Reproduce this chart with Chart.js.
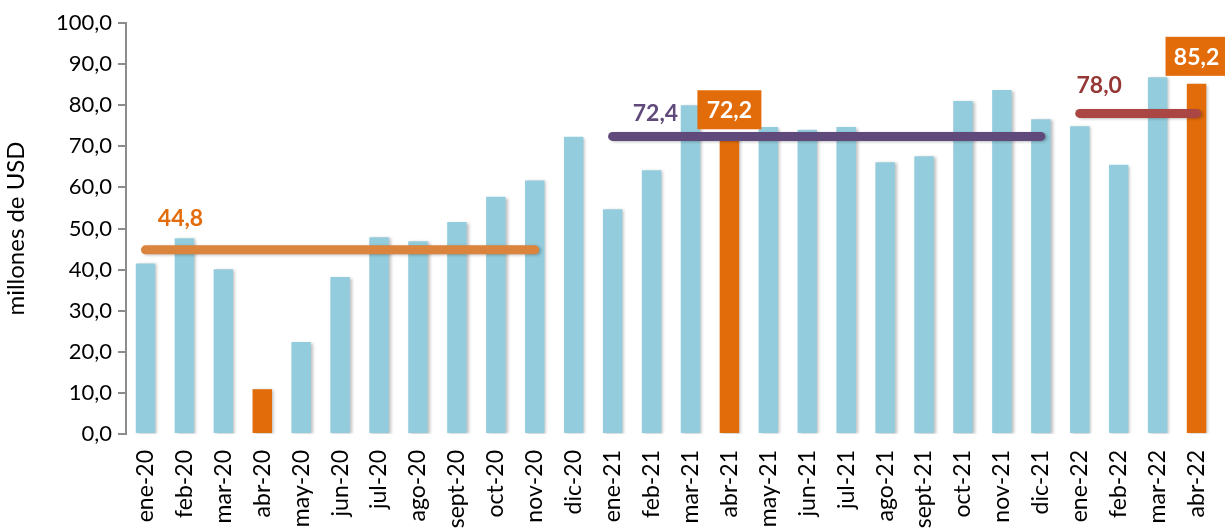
<!DOCTYPE html>
<html>
<head>
<meta charset="utf-8">
<script src="https://cdn.jsdelivr.net/npm/chart.js@4/dist/chart.umd.min.js"></script>
<style>
  html, body { margin: 0; padding: 0; background: #fff; }
  #wrap { width: 1225px; height: 530px; position: relative; }
</style>
</head>
<body>
<div id="wrap"><canvas id="chart"></canvas></div>
<script>
// meses
const months = ['ene-20','feb-20','mar-20','abr-20','may-20','jun-20','jul-20','ago-20','sept-20','oct-20','nov-20','dic-20',
                'ene-21','feb-21','mar-21','abr-21','may-21','jun-21','jul-21','ago-21','sept-21','oct-21','nov-21','dic-21',
                'ene-22','feb-22','mar-22','abr-22'];
// valores mensuales (millones de USD)
const values = [41.5, 47.6, 40.1, 10.9, 22.4, 38.2, 47.9, 46.9, 51.6, 57.7, 61.7, 72.3,
                54.7, 64.2, 80.0, 72.2, 74.7, 74.0, 74.7, 66.1, 67.6, 81.0, 83.7, 76.6,
                74.9, 65.5, 86.8, 85.2];
// meses destacados (abril)
const highlighted = ['abr-20', 'abr-21', 'abr-22'];
// promedios por periodo
const avg2020 = [44.8, 44.8, 44.8, 44.8, 44.8, 44.8, 44.8, 44.8, 44.8, 44.8, 44.8, null,
                 null, null, null, null, null, null, null, null, null, null, null, null,
                 null, null, null, null];
const avg2021 = [null, null, null, null, null, null, null, null, null, null, null, null,
                 72.4, 72.4, 72.4, 72.4, 72.4, 72.4, 72.4, 72.4, 72.4, 72.4, 72.4, 72.4,
                 null, null, null, null];
const avg2022 = [null, null, null, null, null, null, null, null, null, null, null, null,
                 null, null, null, null, null, null, null, null, null, null, null, null,
                 78.0, 78.0, 78.0, 78.0];
const yTicks = [0, 10, 20, 30, 40, 50, 60, 70, 80, 90, 100];

const BLUE = '#93CDDD';
const ORANGE = '#E36C0A';
const FONT = 'Lato, "Open Sans", sans-serif';

const fmt = v => v.toFixed(1).replace('.', ',');

// etiquetas de texto sobre las lineas y barras
const labelPlugin = {
    id: 'labels',
    beforeDatasetDraw(chart, args) {
        const ctx = chart.ctx;
        ctx.save();
        ctx.shadowColor = 'rgba(0,0,0,0.25)';
        ctx.shadowBlur = 3;
        ctx.shadowOffsetX = 2;
        ctx.shadowOffsetY = 1;
    },
    afterDatasetDraw(chart) {
        chart.ctx.restore();
    },
    afterDatasetsDraw(chart) {
        const ctx = chart.ctx;
        const x = chart.scales.x;
        const y = chart.scales.y;
        ctx.save();
        ctx.font = 'bold 23px ' + FONT;
        ctx.textAlign = 'center';
        ctx.textBaseline = 'middle';

        // promedios
        const avgLabels = [
            { idx: 0.9, val: avg2020[0], dy: -31, color: '#E36C0A' },
            { idx: 13.1, val: avg2021[12], dy: -23, color: '#604A7B' },
            { idx: 24.5, val: avg2022[24], dy: -28, color: '#953735' }
        ];
        avgLabels.forEach(l => {
            const px = x.getPixelForValue(0) + (x.getPixelForValue(1) - x.getPixelForValue(0)) * l.idx;
            ctx.fillStyle = l.color;
            ctx.fillText(fmt(l.val), px, y.getPixelForValue(l.val) + l.dy);
        });

        // cajas de abril 2021 y 2022
        [['abr-21', 64], ['abr-22', 62]].forEach(([m, w]) => {
            const i = months.indexOf(m);
            const cx = x.getPixelForValue(i);
            const top = y.getPixelForValue(values[i]);
            const bh = 39;
            const by = top - 8 - bh;
            ctx.fillStyle = ORANGE;
            ctx.fillRect(cx - w / 2, by, w, bh);
            ctx.fillStyle = '#fff';
            ctx.fillText(fmt(values[i]), cx, by + bh / 2 + 1);
        });
        ctx.restore();
    }
};

new Chart(document.getElementById('chart'), {
    type: 'bar',
    data: {
        labels: months,
        datasets: [
            {
                type: 'line',
                data: avg2020,
                borderColor: '#DB843D',
                borderWidth: 9,
                borderCapStyle: 'round',
                pointRadius: 0,
                order: 0
            },
            {
                type: 'line',
                data: avg2021,
                borderColor: '#604A7B',
                borderWidth: 9,
                borderCapStyle: 'round',
                pointRadius: 0,
                order: 0
            },
            {
                type: 'line',
                data: avg2022,
                borderColor: '#AA4643',
                borderWidth: 9,
                borderCapStyle: 'round',
                pointRadius: 0,
                order: 0
            },
            {
                data: values,
                backgroundColor: months.map(m => highlighted.includes(m) ? ORANGE : BLUE),
                barPercentage: 0.5,
                categoryPercentage: 1.0,
                order: 1
            }
        ]
    },
    options: {
        responsive: true,
        maintainAspectRatio: false,
        animation: false,
        layout: { padding: { left: 2, right: 9, top: 23, bottom: 0 } },
        plugins: {
            legend: { display: false },
            tooltip: { enabled: false }
        },
        scales: {
            x: {
                grid: { display: false },
                border: { display: false },
                ticks: {
                    color: '#000',
                    font: { family: FONT, size: 23 },
                    minRotation: 90,
                    maxRotation: 90,
                    autoSkip: false,
                    padding: 8
                },
                afterFit(scale) {
                    scale.height = 96;
                    scale.paddingLeft = 0;
                    scale.paddingRight = 0;
                }
            },
            y: {
                min: 0,
                max: 100,
                afterBuildTicks(scale) { scale.ticks = yTicks.map(v => ({ value: v })); },
                grid: {
                    drawOnChartArea: false,
                    drawTicks: true,
                    tickLength: 8,
                    color: '#8c8c8c',
                    lineWidth: 2
                },
                border: { display: true, color: '#8c8c8c', width: 2 },
                ticks: {
                    color: '#000',
                    font: { family: FONT, size: 22 },
                    padding: 6,
                    callback: v => fmt(v)
                },
                title: {
                    display: true,
                    text: 'millones de USD',
                    color: '#000',
                    font: { family: FONT, size: 24 },
                    padding: { top: 0, bottom: 2 }
                },
                afterFit(scale) {
                    scale.width = 124;
                    scale.paddingTop = 0;
                    scale.paddingBottom = 0;
                }
            }
        }
    },
    plugins: [labelPlugin]
});
</script>
</body>
</html>
